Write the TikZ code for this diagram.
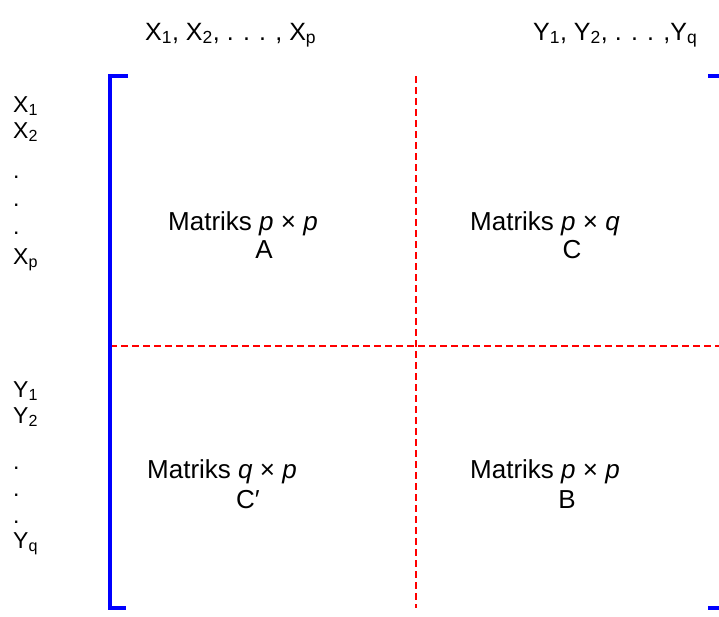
\documentclass[tikz,border=0pt]{standalone}
\usepackage{fontspec}
\setmainfont{Liberation Sans}
\begin{document}
\begin{tikzpicture}[x=1pt,y=-1pt,
  lbl/.style={anchor=base west,inner sep=0pt,font=\fontsize{23}{27}\selectfont},
  hdr/.style={anchor=base west,inner sep=0pt,font=\fontsize{25}{29}\selectfont},
  mat/.style={anchor=base west,inner sep=0pt,font=\fontsize{26}{30}\selectfont},
  letter/.style={anchor=base,inner sep=0pt,font=\fontsize{26}{30}\selectfont},
  brk/.style={draw=blue,line width=4pt},
  part/.style={draw=red,line width=1.6pt,dash pattern=on 7pt off 4pt}]
\clip (0,0) rectangle (719,616);
\fill[white] (0,0) rectangle (719,616);
% headers
\node[hdr] (hx) at (145,40) {X\textsubscript{1}, X\textsubscript{2}, . . . , X\textsubscript{p}};
\node[hdr] (hy) at (533,40) {Y\textsubscript{1}, Y\textsubscript{2}, . . . ,Y\textsubscript{q}};
% left labels
\node[lbl] (x1) at (13,112) {X\textsubscript{1}};
\node[lbl] (x2) at (13,138) {X\textsubscript{2}};
\node[lbl] (xd1) at (13,178) {.};
\node[lbl] (xd2) at (13,206) {.};
\node[lbl] (xd3) at (13,234) {.};
\node[lbl] (xp) at (13,264) {X\textsubscript{p}};
\node[lbl] (y1) at (13,397) {Y\textsubscript{1}};
\node[lbl] (y2) at (13,423) {Y\textsubscript{2}};
\node[lbl] (yd1) at (13,469) {.};
\node[lbl] (yd2) at (13,496) {.};
\node[lbl] (yd3) at (13,523) {.};
\node[lbl] (yq) at (13,548) {Y\textsubscript{q}};
% partition lines
\draw[part] (416,76) -- (416,608);
\draw[part] (110,346) -- (722,346);
% brackets
\draw[brk] (128,76) -- (110,76) -- (110,608) -- (126,608);
\draw[brk] (708,76) -- (724,76) -- (724,608) -- (708,608);
% blocks
\node[mat] (ma) at (168,230) {Matriks \textit{p} × \textit{p}};
\node[letter] (la) at (264,258) {A};
\node[mat] (mc) at (470,230) {Matriks \textit{p} × \textit{q}};
\node[letter] (lc) at (572,258) {C};
\node[mat] (mct) at (147,478) {Matriks \textit{q} × \textit{p}};
\node[letter] (lct) at (248,508) {C′};
\node[mat] (mb) at (470,478) {Matriks \textit{p} × \textit{p}};
\node[letter] (lb) at (567,508) {B};
\end{tikzpicture}
\end{document}
